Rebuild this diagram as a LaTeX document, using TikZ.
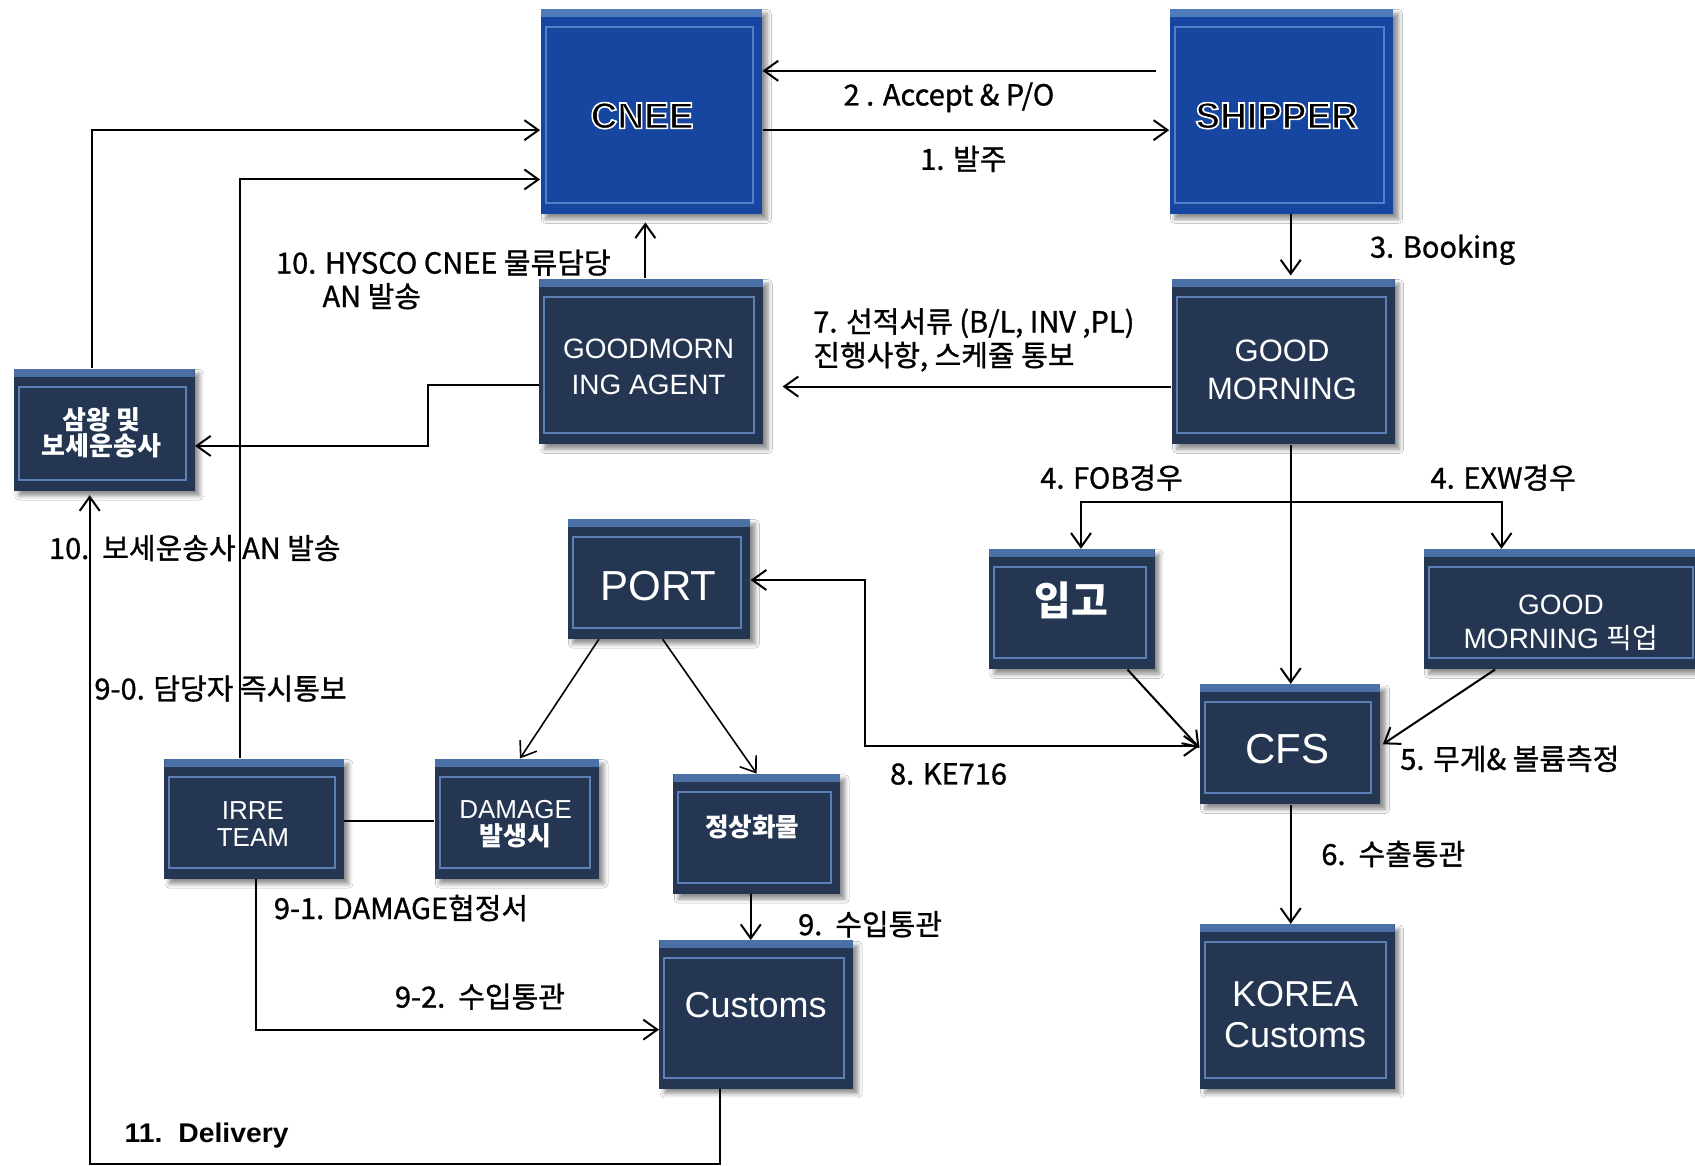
\documentclass[tikz,border=0pt]{standalone}
\usepackage{fontspec}
\setmainfont{Liberation Sans}
\newfontfamily\kr{Noto Sans CJK KR}
\newfontfamily\lab[FakeBold=1.0]{Noto Sans CJK KR}
\newfontfamily\delf[FakeStretch=1.05]{Liberation Sans}
\usetikzlibrary{arrows.meta,shadows.blur}
\definecolor{bluefill}{RGB}{22,70,160}
\definecolor{blueband}{RGB}{78,124,186}
\definecolor{blueline}{RGB}{80,128,200}
\definecolor{navyfill}{RGB}{36,54,82}
\definecolor{navyband}{RGB}{74,112,165}
\definecolor{navyline}{RGB}{92,128,181}
\tikzset{
  boxbase/.style n args={3}{fill=#1, draw=none, inner sep=0pt,
    blur shadow={shadow xshift=2.5pt, shadow yshift=-2.5pt, shadow blur steps=6, shadow opacity=45},
    path picture={
      \fill[#2] (path picture bounding box.north west) rectangle ([yshift=-4pt]path picture bounding box.north east);
      \draw[#3, line width=1pt] ([xshift=2.5pt,yshift=-9pt]path picture bounding box.north west) rectangle ([xshift=-4.5pt,yshift=5.5pt]path picture bounding box.south east);
    }},
  bluebox/.style={boxbase={bluefill}{blueband}{blueline}},
  navybox/.style={boxbase={navyfill}{navyband}{navyline}},
  btxt/.style={inner sep=0pt, align=center, text=white},
  lbl/.style={anchor=west, inner sep=0pt, font=\lab\fontsize{14.5pt}{16pt}\selectfont, text=black},
  conn/.style={line width=1pt, draw=black},
  arr/.style={conn, -{Straight Barb[length=7pt,width=10pt,line width=1pt]}},
  arrtwo/.style={conn, {Straight Barb[length=7pt,width=10pt,line width=1pt]}-{Straight Barb[length=7pt,width=10pt,line width=1pt]}},
  thinarr/.style={line width=0.8pt, draw=black, -{Straight Barb[length=7pt,width=10pt,line width=0.8pt]}},
  outlined/.style={inner sep=0pt, text=black, font=\bfseries\fontsize{18.5pt}{20pt}\selectfont},
}
\newcommand\bx[6]{%
  \node[#6, minimum width={(#4-#2)*0.5405pt}, minimum height={(#5-#3)*0.5405pt}] (#1) at ({(#2+#4)/2},{(#3+#5)/2}) {};}
\newcommand\outltext[1]{\special{pdf:literal direct 1 G 0.8 w 2 Tr}#1\special{pdf:literal direct 0 Tr}}
\begin{document}
\begin{tikzpicture}[x=0.5405pt,y=-0.5405pt]
\fill[white] (0,0) rectangle (1568,1078.6);
\useasboundingbox (0,0) rectangle (1568,1078.6);

% boxes
\bx{cnee}{500}{8}{705}{198}{bluebox}
\bx{ship}{1082}{8}{1289}{198}{bluebox}
\bx{agent}{499}{258}{706}{411}{navybox}
\bx{gm}{1084}{258}{1290}{411}{navybox}
\bx{sam}{13}{341}{180}{454}{navybox}
\bx{port}{525}{480}{694}{591}{navybox}
\bx{ipgo}{915}{508}{1068}{619}{navybox}
\bx{pick}{1317}{508}{1574}{619}{navybox}
\bx{cfs}{1110}{633}{1277}{744}{navybox}
\bx{kc}{1110}{855}{1290}{1007}{navybox}
\bx{irre}{152}{702}{318}{813}{navybox}
\bx{dmg}{402}{702}{554}{813}{navybox}
\bx{norm}{623}{716}{777}{827}{navybox}
\bx{cust}{610}{870}{789}{1007}{navybox}

% box texts
\node[outlined] (cnee-t) at (594,107) {\outltext{CNEE}};
\node[outlined] (ship-t) at (1181,107) {\outltext{SHIPPER}};
\node[btxt, font=\fontsize{14pt}{18pt}\selectfont] (agent-t) at (600,339) {GOODMORN\\ING AGENT};
\node[btxt, font=\fontsize{15.5pt}{19pt}\selectfont] (gm-t) at (1186,342) {GOOD\\MORNING};
\node[btxt, font=\kr\bfseries\fontsize{13pt}{13pt}\selectfont] (sam-t) at (94,400) {삼왕 및\\보세운송사};
\node[btxt, font=\fontsize{21pt}{23pt}\selectfont] (port-t) at (609,542) {PORT};
\node[btxt, font=\kr\bfseries\fontsize{20pt}{22pt}\selectfont] (ipgo-t) at (991,555) {입고};
\node[btxt, font=\fontsize{14pt}{16.8pt}\selectfont] (pick-t) at (1444,576) {GOOD\\MORNING {\kr 픽업}};
\node[btxt, font=\fontsize{21pt}{23pt}\selectfont] (cfs-t) at (1191,693) {CFS};
\node[btxt, font=\fontsize{18pt}{20.5pt}\selectfont] (kc-t) at (1198,939) {KOREA\\Customs};
\node[btxt, font=\fontsize{13pt}{13.5pt}\selectfont] (irre-t) at (234,762) {IRRE\\TEAM};
\node[btxt, font=\fontsize{13pt}{13.5pt}\selectfont] (dmg-t) at (477,762) {DAMAGE\\{\kr\bfseries 발생시}};
\node[btxt, font=\kr\bfseries\fontsize{12.8pt}{13pt}\selectfont] (norm-t) at (696,765) {정상화물};
\node[btxt, font=\fontsize{18pt}{20pt}\selectfont] (cust-t) at (699,930) {Customs};

% helper coordinates
\coordinate (yA) at (0,65.5);
\coordinate (yB) at (0,120.4);
\coordinate (yC) at (0,166);
\coordinate (y357) at (0,357.6);
\coordinate (y356) at (0,356);
\coordinate (y412) at (0,412.5);
\coordinate (y690) at (0,690);
\coordinate (y692) at (0,692);
\coordinate (y537) at (0,536.5);
\coordinate (y760) at (0,759.6);
\coordinate (y952) at (0,952.5);
\coordinate (y1077) at (0,1077);
\coordinate (xG) at (1194,0);
\coordinate (xL) at (1000,0);
\coordinate (xR) at (1389,0);
\coordinate (x800) at (800,0);
\coordinate (x396) at (396,0);
\coordinate (x597) at (597,0);
\coordinate (x85) at (85,0);
\coordinate (x83) at (83,0);
\coordinate (x222) at (222,0);
\coordinate (x237) at (237,0);
\coordinate (x666) at (666,0);
\coordinate (x554) at (554,0);
\coordinate (x481) at (481,0);
\coordinate (x613) at (613,0);
\coordinate (x700) at (700,0);
\coordinate (x694) at (694.5,0);
\coordinate (x1043) at (1043,0);
\coordinate (x1383) at (1383,0);
\coordinate (s2) at (1069,65.5);
\coordinate (b4) at (1194,464);

% connectors
\draw[arr] (s2) -- (cnee.east |- yA);
\draw[arr] (cnee.east |- yB) -- (ship.west |- yB);
\draw[arr] (ship.south -| xG) -- ([yshift=1.5pt]gm.north -| xG);
\draw[arr] (gm.south -| xG) -- (cfs.north -| xG);
\draw[arr] (b4) -| (ipgo.north -| xL);
\draw[arr] (b4) -| (pick.north -| xR);
\draw[arr] (ipgo.south -| x1043) -- (cfs.west |- y692);
\draw[arr] (pick.south -| x1383) -- ([xshift=1pt]cfs.east);
\draw[arr] (cfs.south -| xG) -- (kc.north -| xG);
\draw[arr, shorten >=9.5pt] (gm.west |- y357) -- (agent.east |- y357);
\draw[arrtwo] (cfs.west |- y690) -- (x800 |- y690) |- (port.east |- y537);
\draw[thinarr] (port.south -| x554) -- (dmg.north -| x481);
\draw[thinarr] (port.south -| x613) -- (norm.north -| x700);
\draw[arr] (norm.south -| x694) -- (cust.north -| x694);
\draw[conn] (irre.east |- y760) -- (dmg.west |- y760);
\draw[arr] (irre.north -| x222) |- (cnee.west |- yC);
\draw[arr] (irre.south -| x237) |- (cust.west |- y952);
\draw[arr] (sam.north -| x85) |- (cnee.west |- yB);
\draw[arr] (agent.west |- y356) -- (x396 |- y356) -- (x396 |- y412) -- (sam.east |- y412);
\draw[arr, shorten >=4pt] (agent.north -| x597) -- (cnee.south -| x597);
\draw[arr, shorten >=2pt] (cust.south -| x666) -- (x666 |- y1077) -| (sam.south -| x83);

% labels
\node[lbl] (l2) at (780,90) {2 . Accept \& P/O};
\node[lbl] (l1) at (851,147) {1. 발주};
\node[lbl] (l3) at (1267,231) {3. Booking};
\node[lbl] (l7a) at (752,299) {7. 선적서류 (B/L, INV ,PL)};
\node[lbl] (l7b) at (752,330) {진행사항, 스케쥴 통보};
\node[lbl] (l4a) at (962,442) {4. FOB경우};
\node[lbl] (l4b) at (1323,442) {4. EXW경우};
\node[lbl] (l5) at (1295,702) {5. 무게\& 볼륨측정};
\node[lbl] (l6) at (1222,790) {6.\ \ 수출통관};
\node[lbl] (l8) at (823,716) {8. KE716};
\node[lbl] (l9) at (738,855) {9.\ \ 수입통관};
\node[lbl] (l92) at (365,922) {9-2.\ \ 수입통관};
\node[lbl] (l91) at (253,840) {9-1. DAMAGE협정서};
\node[lbl] (l90) at (87,637) {9-0. 담당자 즉시통보};
\node[lbl] (l10b) at (45,507) {10.\ \ 보세운송사 AN 발송};
\node[lbl] (l10a) at (255,243) {10. HYSCO CNEE 물류담당};
\node[lbl] (l10c) at (298,274) {AN 발송};
\node[anchor=west, inner sep=0pt, font=\delf\bfseries\fontsize{13.5pt}{15pt}\selectfont] (l11) at (115,1050) {11.\ \ Delivery};
\end{tikzpicture}
\end{document}
